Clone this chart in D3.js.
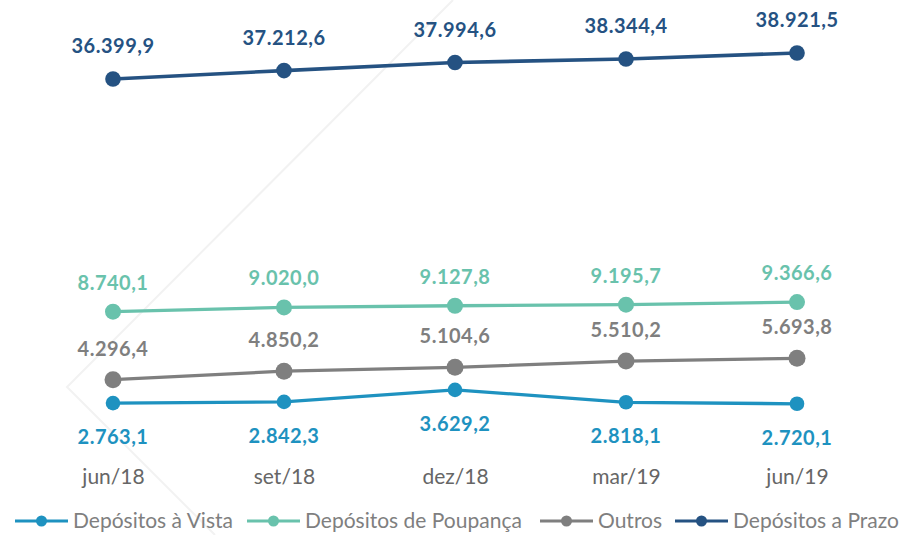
<!DOCTYPE html>
<html>
<head>
<meta charset="utf-8">
<script src="https://cdn.jsdelivr.net/npm/d3@7"></script>
<style>
  body { margin: 0; background: #fff; }
  svg { display: block; }
  .value-label { font-family: Lato, sans-serif; font-weight: bold; font-size: 20px; letter-spacing: 0.5px; }
  .cat-label { font-family: Lato, sans-serif; font-size: 21px; fill: #666666; }
  .legend-label { font-family: Lato, sans-serif; font-size: 21px; fill: #7f7f7f; }
</style>
</head>
<body>
<div id="chart"></div>
<script>
const categories = ['jun/18', 'set/18', 'dez/18', 'mar/19', 'jun/19'];
const vista = [2763.1, 2842.3, 3629.2, 2818.1, 2720.1];
const poupanca = [8740.1, 9020.0, 9127.8, 9195.7, 9366.6];
const outros = [4296.4, 4850.2, 5104.6, 5510.2, 5693.8];
const prazo = [36399.9, 37212.6, 37994.6, 38344.4, 38921.5];
const seriesNames = ['Depósitos à Vista', 'Depósitos de Poupança', 'Outros', 'Depósitos a Prazo'];

const totalWidth = 915;
const totalHeight = 535;

const svg = d3.select('#chart').append('svg')
    .attr('width', totalWidth)
    .attr('height', totalHeight);

// faint watermark chevron behind the chart
svg.append('polyline')
    .attr('points', '453,0 67,387 215,535')
    .attr('fill', 'none')
    .attr('stroke', '#f2f2f2')
    .attr('stroke-width', 2);

const ptBR = d3.formatLocale({ decimal: ',', thousands: '.', grouping: [3], currency: ['R$', ''] });
const fmt = ptBR.format(',.1f');

const scaleX = d3.scalePoint()
    .domain(categories)
    .range([27.5, 882.5])
    .padding(0.5);

// primary axis for the three smaller series, secondary for Prazo
const scaleY = d3.scaleLinear().domain([0, 30000]).range([445.4, -13.6]);
const scaleY2 = d3.scaleLinear().domain([0, 45000]).range([454.3, -9.7]);

const series = [
    { name: seriesNames[0], values: vista, color: '#1e92c0', scale: scaleY, r: 7.3, width: 3.3, labelDy: 34 },
    { name: seriesNames[1], values: poupanca, color: '#69c2ac', scale: scaleY, r: 8, width: 3.3, labelDy: -29 },
    { name: seriesNames[2], values: outros, color: '#7f7f7f', scale: scaleY, r: 8.5, width: 3.3, labelDy: -31 },
    { name: seriesNames[3], values: prazo, color: '#255282', scale: scaleY2, r: 7.8, width: 3.6, labelDy: -33 }
];

const line = d3.line();

series.forEach(s => {
    const pts = s.values.map((v, i) => [scaleX(categories[i]), s.scale(v)]);
    const g = svg.append('g');
    g.append('path')
        .attr('d', line(pts))
        .attr('fill', 'none')
        .attr('stroke', s.color)
        .attr('stroke-width', s.width);
    g.selectAll('circle')
        .data(pts)
        .enter()
        .append('circle')
        .attr('cx', d => d[0])
        .attr('cy', d => d[1])
        .attr('r', s.r)
        .attr('fill', s.color);
    g.selectAll('text')
        .data(s.values)
        .enter()
        .append('text')
        .attr('class', 'value-label')
        .attr('x', (d, i) => scaleX(categories[i]))
        .attr('y', (d, i) => s.scale(d) + s.labelDy)
        .attr('dy', '0.35em')
        .attr('text-anchor', 'middle')
        .attr('fill', s.color)
        .text(d => fmt(d));
});

const xAxis = svg.append('g')
    .attr('transform', 'translate(0, 477)')
    .call(d3.axisBottom(scaleX).tickSize(0).tickPadding(0));
xAxis.select('.domain').remove();
xAxis.selectAll('text')
    .attr('class', 'cat-label')
    .attr('dy', '0.35em')
    .attr('font-family', null)
    .attr('font-size', null)
    .attr('fill', null);

const legendX = [15, 247, 540, 675];
const legend = svg.append('g').attr('transform', 'translate(0, 521)');
series.forEach((s, i) => {
    const item = legend.append('g').attr('transform', `translate(${legendX[i]}, 0)`);
    item.append('line')
        .attr('x1', 0).attr('x2', 53)
        .attr('stroke', s.color)
        .attr('stroke-width', 3);
    item.append('circle')
        .attr('cx', 26.5)
        .attr('r', 5.5)
        .attr('fill', s.color);
    item.append('text')
        .attr('class', 'legend-label')
        .attr('x', 58)
        .attr('dy', '0.35em')
        .text(s.name);
});
</script>
</body>
</html>
